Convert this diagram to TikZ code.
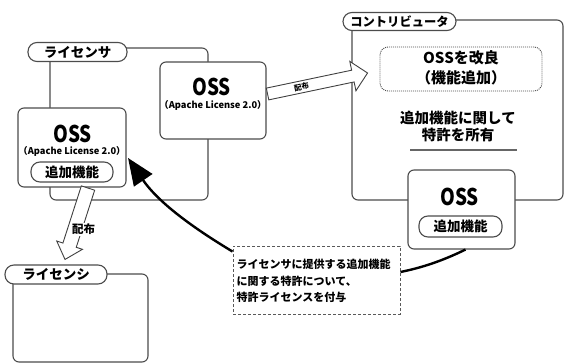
\documentclass[tikz,border=0pt]{standalone}
\usepackage{fontspec}
\usepackage{graphicx}
\setmainfont{Noto Sans CJK JP}
\usetikzlibrary{arrows.meta,calc}
\newcommand{\blkarrow}[5]{%
  \coordinate (ba-h) at ($(#2)!#5!(#1)$);
  \draw[blockarrow] ($(#1)!#3!90:(#2)$) -- ($(ba-h)!#3!90:(#2)$) -- ($(ba-h)!#4!90:(#2)$)
     -- (#2) -- ($(ba-h)!#4!-90:(#2)$) -- ($(ba-h)!#3!-90:(#2)$) -- ($(#1)!#3!-90:(#2)$) -- cycle;}
\newcommand{\ossword}{\scalebox{0.82}[1]{OSS}}
\begin{document}
\begin{tikzpicture}[x=1pt,y=-1pt,
 frame/.style={draw=black!70, line width=1.1pt, rounded corners=6pt, inner sep=0pt},
 box/.style={frame, fill=white},
 pill/.style={draw=black!70, line width=1.1pt, fill=white, rounded corners=9pt, inner sep=0pt,
   font=\bfseries\fontsize{13.5}{15}\selectfont},
 osst/.style={font=\bfseries\fontsize{23}{24}\selectfont, inner sep=0pt},
 apache/.style={font=\bfseries\fontsize{9.3}{10}\selectfont, inner sep=0pt},
 jtext/.style={font=\bfseries\fontsize{14.5}{17.5}\selectfont, inner sep=0pt, align=center},
 blockarrow/.style={draw=black!75, line width=0.9pt, fill=white, line join=miter},
 curved/.style={line width=2.4pt, draw=black},
 dotbox/.style={draw=black!70, line width=0.9pt, dash pattern=on 1pt off 1pt, rounded corners=8pt, inner sep=0pt},
 notebox/.style={draw=black!65, line width=0.9pt, dash pattern=on 3pt off 2pt, inner sep=0pt},
]
\useasboundingbox (0,0) rectangle (564,363);

% frames
\node[frame, minimum width=158pt, minimum height=152pt] (lorframe) at (129,124) {};
\node[frame, minimum width=211pt, minimum height=180pt] (conframe) at (457.5,110) {};
\node[frame, minimum width=135pt, minimum height=88pt] (leeframe) at (80.5,318) {};

% licensor
\node[box, minimum width=108pt, minimum height=79pt] (ossL) at (72,147.5) {};
\node[osst] (ossLt) at (72.5,134) {\ossword};
\node[apache] (apL) at (72,151) {（Apache License 2.0）};
\node[pill, minimum width=82pt, minimum height=20pt] (addL) at (72,172) {追加機能};

\node[box, minimum width=106pt, minimum height=77pt] (ossC) at (213,100.5) {};
\node[osst] (ossCt) at (211.5,87) {\ossword};
\node[apache] (apC) at (213,105.5) {（Apache License 2.0）};

\node[pill, minimum width=99pt, minimum height=19pt] (lorlabel) at (77.5,52) {ライセンサ};

% contributor
\node[dotbox, minimum width=162pt, minimum height=44pt] (improve) at (461,69) {};
\node[jtext, font=\bfseries\fontsize{15}{20}\selectfont] (improvet) at (461,67.5) {OSSを改良\\（機能追加）};
\node[jtext] (patent) at (458,126.5) {追加機能に関して\\特許を所有};
\coordinate (sepA) at (410,150);
\coordinate (sepB) at (517,150);
\draw[draw=black!60, line width=1.3pt] (sepA) -- (sepB);

\node[box, minimum width=107pt, minimum height=79pt] (ossR) at (461.5,209.5) {};
\node[osst] (ossRt) at (459.5,196.5) {\ossword};
\node[pill, minimum width=83pt, minimum height=21pt] (addR) at (460.5,226.5) {追加機能};

\node[pill, minimum width=113pt, minimum height=18pt, font=\bfseries\fontsize{12.3}{14}\selectfont] (conlabel) at (399.5,21.5) {コントリビュータ};

% licensee
\node[pill, minimum width=102pt, minimum height=19pt] (leelabel) at (56,274.5) {ライセンシ};

% note
\node[notebox, minimum width=167pt, minimum height=68pt] (note) at (316.5,280) {};
\node[inner sep=0pt, anchor=west, align=left, font=\bfseries\fontsize{11}{16.5}\selectfont] (notet) at (236.5,281)
  {ライセンサに提供する追加機能\\に関する特許について、\\特許ライセンスを付与};

% block arrows
\coordinate (a1s) at ($(ossC.east)+(1,-6.5)$);
\coordinate (a1e) at ($(improve.west)+(-12,4)$);
\blkarrow{a1s}{a1e}{6pt}{15pt}{15pt}
\node[inner sep=0pt, rotate=12, font=\bfseries\fontsize{7.5}{8}\selectfont] (dist1) at ($(a1s)!0.34!(a1e)$) {配布};

\coordinate (a2s) at ($(ossL.south)+(16,0.5)$);
\coordinate (a2e) at ($(leelabel.north)+(9,-5)$);
\blkarrow{a2s}{a2e}{7pt}{13.5pt}{15pt}
\node[fill=white, inner sep=1pt, font=\bfseries\fontsize{11.5}{12}\selectfont] (dist2) at ($(a2s)!0.58!(a2e)+(9,0)$) {配布};

% curved connector
\coordinate (ctip) at ($(ossL.east)+(1.5,10.5)$);
\coordinate (cstart) at ([yshift=-6pt]note.north west);
\draw[curved, -{Triangle[length=27pt, width=22pt]}] (cstart) .. controls (200,232) and (160,205) .. (ctip);
\coordinate (cR) at ([xshift=4pt]ossR.south);
\coordinate (cN) at ([yshift=8pt]note.east);
\draw[curved] (cR) .. controls (440,262) and (420,268) .. (cN);
\end{tikzpicture}
\end{document}
